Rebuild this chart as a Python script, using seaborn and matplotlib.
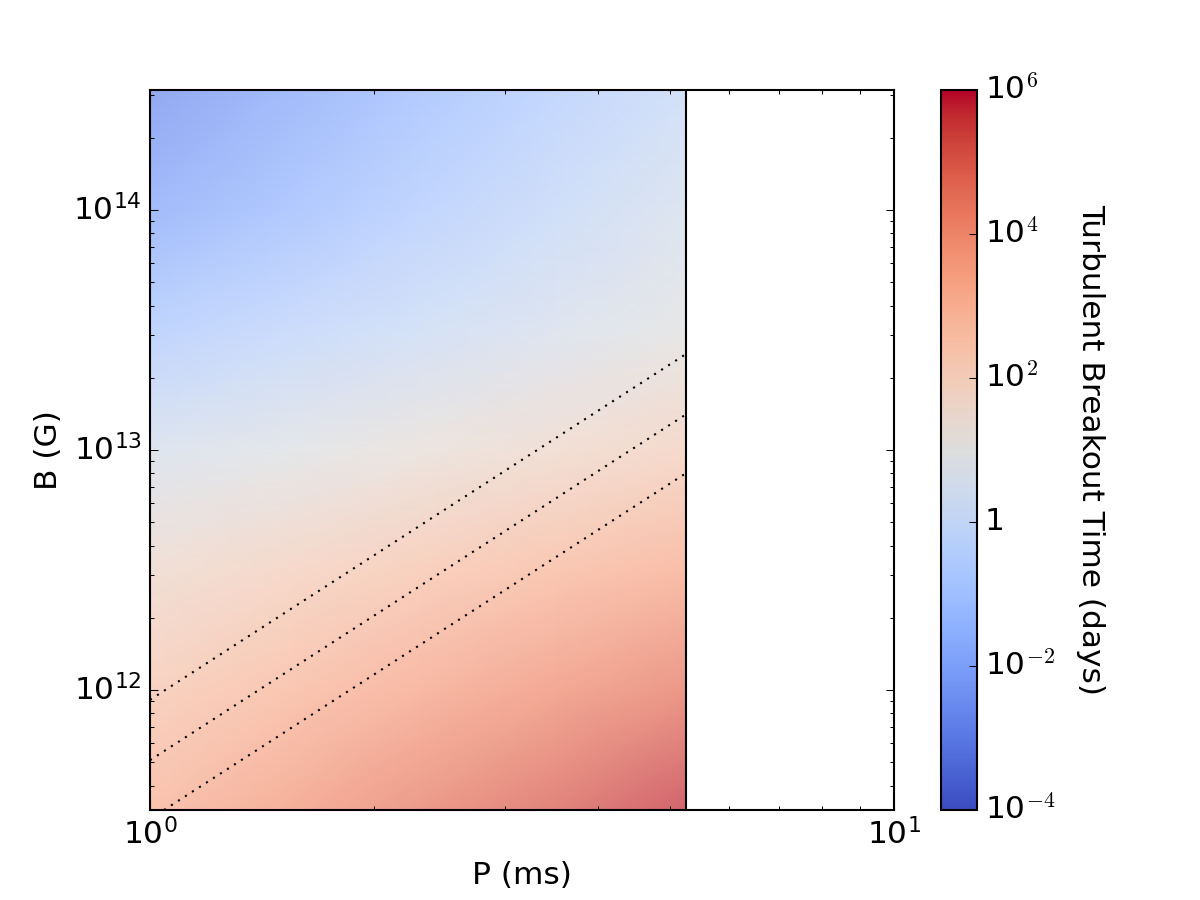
import numpy as np
import seaborn as sns
import matplotlib.pyplot as plt
from matplotlib.colors import LogNorm, ListedColormap

# grid nodes: period (ms), field (G) and log10 breakout time (days)
period_ms = [1.0, 1.5, 2.3, 3.5, 5.26]
field_log = [14.5, 14.0, 13.5, 13.0, 12.5, 12.0, 11.5]
log_time = [
    [-2.70, -2.04, -1.34, -0.66, 0.00],
    [-2.00, -1.39, -0.74, -0.11, 0.50],
    [-0.80, -0.36, 0.10, 0.56, 1.00],
    [0.50, 0.87, 1.25, 1.63, 2.00],
    [1.60, 2.01, 2.45, 2.88, 3.30],
    [2.40, 2.91, 3.45, 3.99, 4.50],
    [3.10, 3.73, 4.41, 5.06, 5.70],
]

# dotted lines B = B0 * P^2
line_b0 = [9.1e11, 5.1e11, 2.9e11]
p_max = 5.26

cbar_ticks = [1e-4, 1e-2, 1, 1e2, 1e4, 1e6]
cbar_labels = ["10$^{-4}$", "10$^{-2}$", "1", "10$^{2}$", "10$^{4}$", "10$^{6}$"]

plt.style.use("classic")
plt.rcParams["font.size"] = 15
cmap = sns.color_palette("coolwarm", as_cmap=True)

# the map itself is drawn see-through (alpha 0.7 on white), the colorbar opaque
faded = cmap(np.linspace(0, 1, 256))
faded[:, :3] = 0.7 * faded[:, :3] + 0.3
faded_cmap = ListedColormap(faded)

fig = plt.figure(figsize=(8, 6), dpi=150)
ax = fig.add_subplot(111)

P, B = np.meshgrid(period_ms, 10 ** np.array(field_log))
T = 10 ** np.array(log_time)
ax.pcolormesh(P, B, T, cmap=faded_cmap, norm=LogNorm(1e-4, 1e6),
              shading="gouraud", rasterized=True)

p_line = np.array([1.0, p_max])
for b0 in line_b0:
    ax.plot(p_line, b0 * p_line ** 2, "k:", lw=1)

ax.axvline(p_max, color="k", lw=1)

ax.set_xscale("log")
ax.set_yscale("log")
ax.set_xlim(1, 10)
ax.set_ylim(10 ** 11.5, 10 ** 14.5)
ax.set_xlabel("P (ms)")
ax.set_ylabel("B (G)")

sm = plt.cm.ScalarMappable(norm=LogNorm(1e-4, 1e6), cmap=cmap)
cb = fig.colorbar(sm, ax=ax, ticks=cbar_ticks)
cb.ax.set_yticklabels(cbar_labels)
cb.set_label("Turbulent Breakout Time (days)", rotation=270, labelpad=24)
cb.ax.minorticks_off()

fig.savefig("out.png", dpi=150)
